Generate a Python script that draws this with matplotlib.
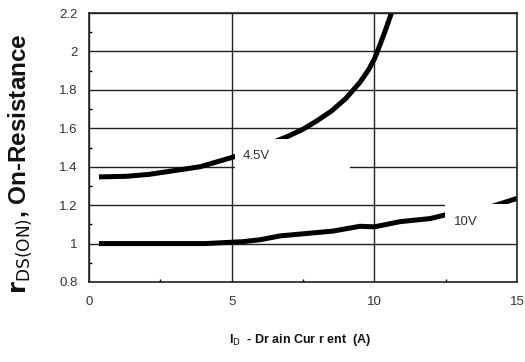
import matplotlib
matplotlib.use("Agg")
import matplotlib.pyplot as plt
from matplotlib.patches import Rectangle
from matplotlib.ticker import MultipleLocator

plt.rcParams['font.family'] = ['Liberation Sans', 'DejaVu Sans']

# Drain current (A) and on-resistance (normalised) for two gate voltages
id_45 = [0.35, 1.3, 2.1, 3.0, 3.9, 5.05, 6.0, 7.0, 7.5, 8.0, 8.5, 9.0, 9.5, 9.8, 10.0, 10.2, 10.4, 10.6]
r_45 = [1.347, 1.35, 1.36, 1.38, 1.40, 1.45, 1.50, 1.56, 1.595, 1.64, 1.69, 1.755, 1.84, 1.905, 1.96, 2.035, 2.115, 2.2]

id_10 = [0.35, 2.0, 4.07, 5.4, 6.0, 6.7, 8.55, 9.5, 10.0, 10.9, 11.95, 12.48, 14.05, 15.0]
r_10 = [1.0, 1.0, 1.0, 1.01, 1.02, 1.04, 1.065, 1.09, 1.087, 1.114, 1.13, 1.149, 1.19, 1.235]

x_ticks = [0, 5, 10, 15]
y_ticks = [0.8, 1.0, 1.2, 1.4, 1.6, 1.8, 2.0, 2.2]
y_tick_labels = ['0.8', '1', '1.2', '1.4', '1.6', '1.8', '2', '2.2']

fig = plt.figure(figsize=(5.25, 3.62), dpi=100)
ax = fig.add_axes([89 / 525, 1 - 282 / 362, (517 - 89) / 525, (282 - 13) / 362])

ax.plot(id_45, r_45, color='black', lw=3.6, solid_capstyle='butt', zorder=3)
ax.plot(id_10, r_10, color='black', lw=3.6, solid_capstyle='butt', zorder=3)

ax.set_xlim(0, 15)
ax.set_ylim(0.8, 2.2)
ax.set_xticks(x_ticks)
ax.set_xticklabels([str(t) for t in x_ticks])
ax.set_yticks(y_ticks)
ax.set_yticklabels(y_tick_labels)
ax.xaxis.set_minor_locator(MultipleLocator(2.5))
ax.yaxis.set_minor_locator(MultipleLocator(0.1))
ax.tick_params(which='major', length=0, pad=8, labelsize=9.5, labelcolor='#333333')
ax.tick_params(which='minor', direction='in', length=2.5, width=1, color='black')
ax.tick_params(axis='x', which='major', pad=10)
ax.grid(True, which='major', color='#222222', lw=1.0, zorder=1)
for s in ax.spines.values():
    s.set_linewidth(1.2)
    s.set_color('#222222')
    s.set_zorder(5)

# white label boxes that interrupt curve and grid
ax.add_patch(Rectangle((5.1, 1.375), 4.05, 0.17, facecolor='white', edgecolor='none', zorder=4))
ax.add_patch(Rectangle((12.48, 1.055), 2.52, 0.15, facecolor='white', edgecolor='none', zorder=4))
ax.text(5.4, 1.455, '4.5V', fontsize=9.5, color='#333333', va='center', ha='left', zorder=6)
ax.text(12.8, 1.11, '10V', fontsize=9.5, color='#333333', va='center', ha='left', zorder=6)

ylabel = r'$\mathbf{r}_{\mathrm{DS(ON)}}$' + ', On-Resistance'
fig.text(0.038, 0.548, ylabel, fontsize=17.5, fontweight='bold', rotation=90,
         ha='center', va='center', color='#111111')
fig.text(300 / 525, 1 - 340 / 362, r'I$_{\mathrm{D}}$  - Dr ain Cur r ent  (A)',
         fontsize=9, fontweight='bold', ha='center', va='center', color='#111111')

fig.savefig('out.png', dpi=100)
